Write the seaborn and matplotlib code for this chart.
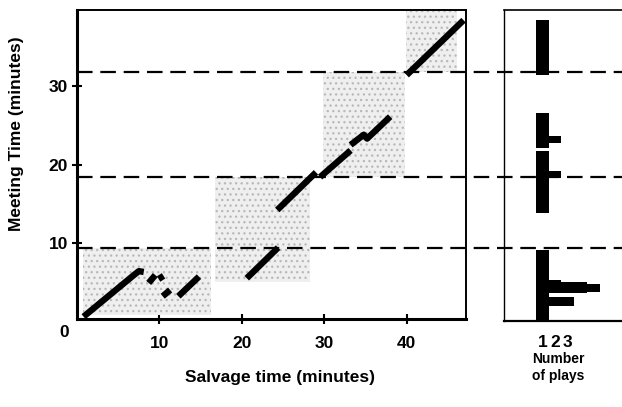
import matplotlib
matplotlib.use("Agg")
import pandas as pd
import seaborn as sns
from matplotlib import pyplot as plt
from matplotlib.patches import Rectangle

# plays: salvage time vs meeting time (minutes), one id per drawn piece
seg_id = ["a", "a", "a", "a", "b", "b", "c", "c", "d", "d", "e", "e",
          "f", "f", "g", "g", "h", "h", "i", "i", "i", "i", "j", "j"]
salvage = [0.8, 6.9, 7.5, 8.1, 8.7, 9.5, 9.9, 10.5, 10.4, 11.3, 12.3, 14.8,
           20.6, 24.4, 24.3, 29.0, 29.5, 33.2, 33.2, 34.8, 35.2, 38.0, 40.0, 46.9]
meeting = [0.6, 5.9, 6.4, 6.3, 4.9, 5.9, 5.4, 5.8, 3.2, 4.0, 3.2, 5.7,
           5.5, 9.4, 14.2, 19.0, 18.4, 21.8, 22.5, 23.8, 23.3, 26.1, 31.4, 38.4]

# stippled regions (salvage from/to, meeting from/to)
shade_x0 = [0.7, 16.8, 29.8, 39.9]
shade_x1 = [16.2, 28.3, 39.8, 46.1]
shade_y0 = [0.8, 5.0, 18.4, 31.8]
shade_y1 = [9.4, 18.4, 31.8, 39.7]

# dashed phase boundaries (meeting time)
phase_breaks = [9.4, 18.4, 31.8]

# histogram of meeting times: bin from/to and number of plays
hist_lo = [0.0, 2.2, 3.3, 3.8, 4.0, 4.95, 5.3, 5.5, 14.0, 18.4, 19.3, 22.2, 22.9, 23.8, 31.5]
hist_hi = [2.2, 3.3, 3.8, 4.0, 4.95, 5.3, 5.5, 9.35, 18.4, 19.3, 21.8, 22.9, 23.8, 26.7, 38.4]
hist_count = [1, 3, 1, 4, 5, 4, 2, 1, 1, 2, 1, 1, 2, 1, 1]

x_ticks = [10, 20, 30, 40]
y_ticks = [10, 20, 30]
count_labels = ["1", "2", "3"]

sns.set_style("white")
plt.rcParams["font.family"] = ["Liberation Sans", "DejaVu Sans"]
plt.rcParams.update({"text.color": "black", "axes.labelcolor": "black",
                     "xtick.color": "black", "ytick.color": "black",
                     "hatch.linewidth": 0.9})

fig = plt.figure(figsize=(6.22, 4.07), dpi=100)
ax = fig.add_axes([77 / 622, 88 / 407, 389 / 622, 309 / 407])
ax2 = fig.add_axes([504 / 622, 86 / 407, 118 / 622, 311 / 407])

for x0, x1, y0, y1 in zip(shade_x0, shade_x1, shade_y0, shade_y1):
    ax.add_patch(Rectangle((x0, y0), x1 - x0, y1 - y0, facecolor="#efefef",
                           edgecolor="#b8b8b8", hatch="...", linewidth=0, zorder=1))

for y in phase_breaks:
    ax.axhline(y, xmin=0, xmax=545 / 389, color="black", lw=1.6,
               dashes=(7, 3.5), clip_on=False, zorder=2)

df = pd.DataFrame({"seg": seg_id, "salvage": salvage, "meeting": meeting})
sns.lineplot(data=df, x="salvage", y="meeting", units="seg", estimator=None,
             sort=False, color="black", linewidth=4.6, solid_capstyle="butt",
             legend=False, ax=ax, zorder=3)

ax.set_xlim(0, 47.2)
ax.set_ylim(0.3, 39.7)
ax.set_xticks(x_ticks)
ax.set_yticks(y_ticks)
ax.tick_params(bottom=True, left=True, direction="inout", length=7, width=1.5,
               color="black", labelsize=12.5, pad=3)
ax.tick_params(axis="x", pad=9)
for lab in ax.get_xticklabels() + ax.get_yticklabels():
    lab.set_fontweight("bold")
for side, lw in [("left", 2.2), ("bottom", 2.2), ("top", 1.4), ("right", 1.4)]:
    ax.spines[side].set_linewidth(lw)
    ax.spines[side].set_color("black")
ax.text(-0.033, -0.045, "0", transform=ax.transAxes, ha="center", va="center",
        fontsize=12.5, fontweight="bold")
ax.set_xlabel("Salvage time (minutes)", fontsize=12.5, fontweight="bold")
ax.set_ylabel("Meeting Time (minutes)", fontsize=12.5, fontweight="bold")
ax.xaxis.set_label_coords(0.522, -0.165)
ax.yaxis.set_label_coords(-0.135, 0.6)

ax2.barh(hist_lo, hist_count, height=[h - l for l, h in zip(hist_lo, hist_hi)],
         align="edge", color="black", linewidth=0)
ax2.set_ylim(0.3, 39.7)
ax2.set_xlim(-2.52, 6.77)
ax2.set_yticks([])
ax2.set_xticks([i + 0.5 for i in range(len(count_labels))])
ax2.set_xticklabels(count_labels, fontsize=12.5, fontweight="bold")
ax2.tick_params(axis="x", bottom=False, length=0, pad=10)
ax2.patch.set_visible(False)
ax2.spines["right"].set_visible(False)
for side, lw in [("left", 1.0), ("bottom", 1.6), ("top", 1.2)]:
    ax2.spines[side].set_linewidth(lw)
    ax2.spines[side].set_color("black")
ax2.set_xlabel("Number\nof plays", fontsize=10, fontweight="bold", linespacing=1.3)
ax2.xaxis.set_label_coords(0.46, -0.1)

fig.savefig("out.png", dpi=100)
